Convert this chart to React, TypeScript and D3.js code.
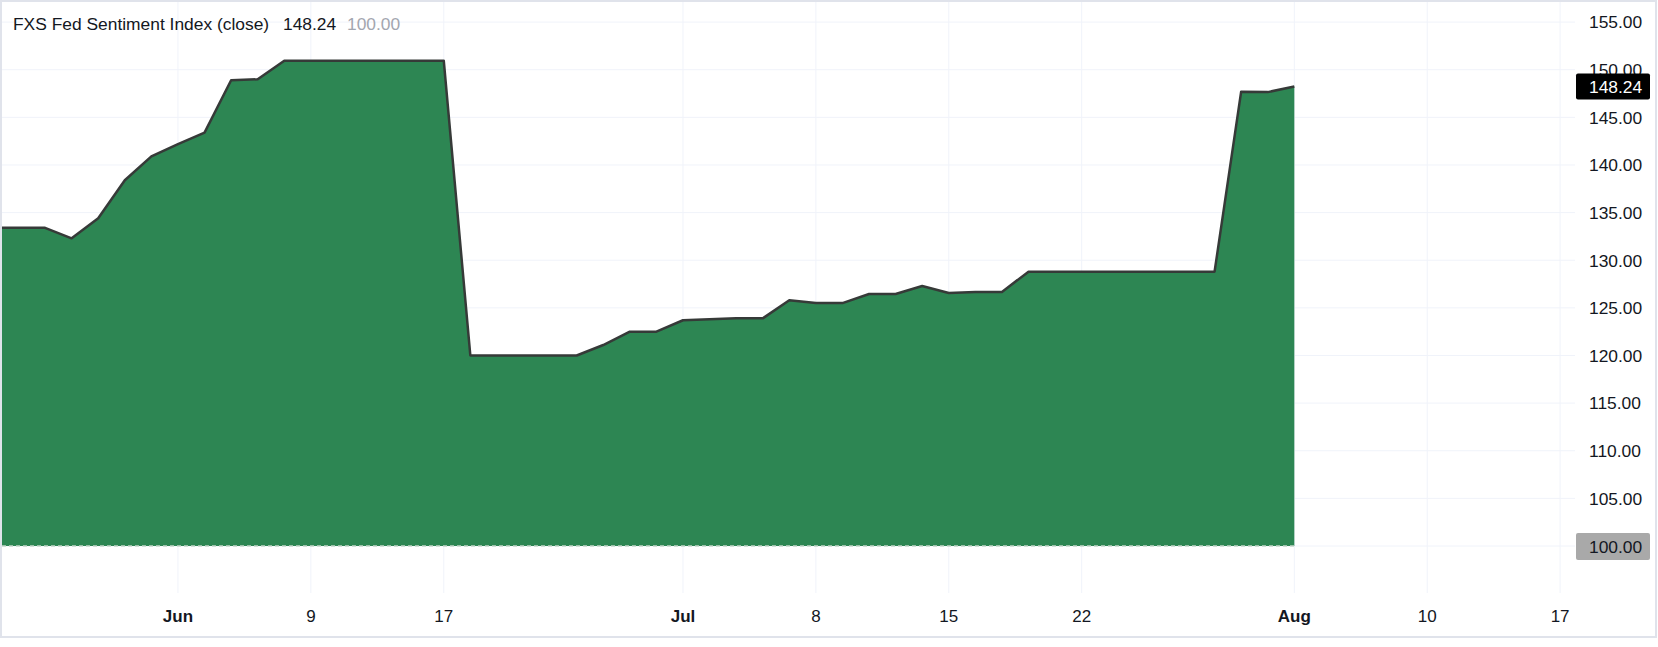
import React from 'react';
import * as d3 from 'd3';

const seriesName = 'FXS Fed Sentiment Index (close)';
const baseValue = 100;

// one close per trading bar (first bar sits just left of the pane)
const closes = [
  133.4, 133.4, 133.4, 132.3, 134.4, 138.4, 140.9, 142.2, 143.4, 148.9,
  149.0, 150.95, 150.95, 150.95, 150.95, 150.95, 150.95, 150.95, 120.0, 120.0,
  120.0, 120.0, 120.0, 121.1, 122.5, 122.5, 123.7, 123.8, 123.9, 123.9,
  125.8, 125.5, 125.5, 126.45, 126.45, 127.3, 126.56, 126.67, 126.67, 128.8,
  128.8, 128.8, 128.8, 128.8, 128.8, 128.8, 128.8, 147.7, 147.65, 148.24,
];

// time axis: bar index of each tick and its label
const tickBars = [7, 12, 17, 26, 31, 36, 41, 49, 54, 59];
const tickLabels = ['Jun', '9', '17', 'Jul', '8', '15', '22', 'Aug', '10', '17'];

const priceTicks = [100, 105, 110, 115, 120, 125, 130, 135, 140, 145, 150, 155];

const W = 1658;
const H = 647;
const paneRight = 1575;
const paneBottom = 593;
const font = '"Liberation Sans", Arial, sans-serif';
const textColor = '#131722';
const gridColor = '#f0f3fa';

const App: React.FC = () => {
  const x = d3.scaleLinear().domain([0, 59]).range([-8.1, -8.1 + 59 * 26.58]);
  const y = d3.scaleLinear().domain([100, 155]).range([546, 22.1]);

  const pts: [number, number][] = closes.map((v, i) => [i, v]);

  const area = d3.area<[number, number]>()
    .x(d => x(d[0]))
    .y0(y(baseValue))
    .y1(d => y(d[1]));

  const line = d3.line<[number, number]>()
    .x(d => x(d[0]))
    .y(d => y(d[1]));

  const last = closes[closes.length - 1];
  const lastX = x(closes.length - 1);

  return (
    <svg
      width={W}
      height={H}
      viewBox={`0 0 ${W} ${H}`}
      style={{ position: 'fixed', left: 0, top: 0, background: '#fff' }}
      fontFamily={font}
    >
      <defs>
        <clipPath id="pane">
          <rect x={2} y={2} width={paneRight - 2} height={paneBottom - 2} />
        </clipPath>
      </defs>

      {/* grid */}
      <g stroke={gridColor} strokeWidth={1}>
        {priceTicks.map(t => (
          <line key={'h' + t} x1={2} x2={paneRight} y1={y(t)} y2={y(t)} />
        ))}
        {tickBars.map(b => (
          <line key={'v' + b} x1={x(b)} x2={x(b)} y1={2} y2={paneBottom} />
        ))}
      </g>

      <g clipPath="url(#pane)">
        <path d={area(pts) || ''} fill="#2d8653" />
        <line
          x1={2}
          x2={lastX}
          y1={y(baseValue)}
          y2={y(baseValue)}
          stroke="#c3d6c9"
          strokeWidth={1.5}
          strokeDasharray="4 3"
        />
        <path
          d={line(pts) || ''}
          fill="none"
          stroke="#363a38"
          strokeWidth={2.5}
          strokeLinejoin="round"
        />
      </g>

      {/* legend */}
      <text x={13} y={29.5} fontSize={17.4} fill={textColor}>{seriesName}</text>
      <text x={283} y={29.5} fontSize={17.4} fill={textColor}>{last.toFixed(2)}</text>
      <text x={347} y={29.5} fontSize={17.4} fill="#a3a6af">{baseValue.toFixed(2)}</text>

      {/* price axis */}
      {priceTicks.filter(t => t !== baseValue).map(t => (
        <text
          key={'p' + t}
          x={1589}
          y={y(t)}
          dy="0.36em"
          fontSize={17.4}
          fill={textColor}
        >
          {t.toFixed(2)}
        </text>
      ))}

      <rect x={1576} y={y(last) - 13} width={74} height={26} rx={2} fill="#000" />
      <text x={1589} y={y(last)} dy="0.36em" fontSize={17.4} fill="#fff">
        {last.toFixed(2)}
      </text>

      <rect x={1576} y={y(baseValue) - 13} width={74} height={27} rx={2} fill="#a9a9a9" />
      <text x={1589} y={y(baseValue)} dy="0.38em" fontSize={17.4} fill={textColor}>
        {baseValue.toFixed(2)}
      </text>

      {/* time axis */}
      {tickBars.map((b, i) => (
        <text
          key={'t' + b}
          x={x(b)}
          y={622}
          textAnchor="middle"
          fontSize={17}
          fontWeight={isNaN(+tickLabels[i]) ? 'bold' : 'normal'}
          fill={textColor}
        >
          {tickLabels[i]}
        </text>
      ))}

      {/* frame */}
      <rect x={1} y={1} width={1655} height={636} fill="none" stroke="#e0e3eb" strokeWidth={2} />
    </svg>
  );
};

export default App;
